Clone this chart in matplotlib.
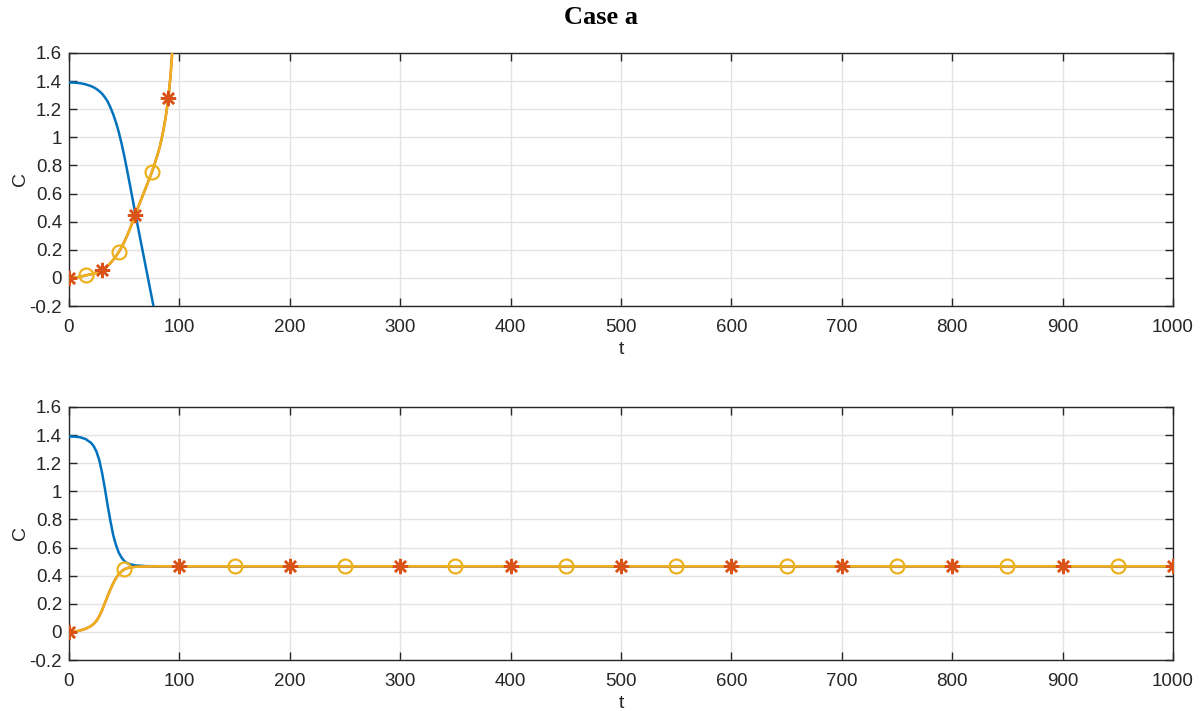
import matplotlib.pyplot as plt
import numpy as np
from matplotlib.ticker import FormatStrFormatter

# Case a, top panel (samples)
tTop = [0, 5, 10, 15, 20, 22.5, 25, 27.5, 30, 32.5, 35, 37.5, 40, 42.5, 45, 47.5, 50, 52.5,
        55, 57.5, 60, 65, 70, 75, 80, 82.5, 85, 87.5, 90, 92, 94]
blueTop = [1.39, 1.389, 1.385, 1.377, 1.364, 1.355, 1.343, 1.328, 1.31, 1.285, 1.255, 1.213,
           1.165, 1.107, 1.04, 0.96, 0.87, 0.772, 0.67, 0.565, 0.46, 0.26, 0.06, -0.14,
           -0.34, -0.44, -0.54, -0.64, -0.74, -0.82, -0.9]
orangeTop = [0.0, 0.002, 0.008, 0.018, 0.026, 0.031, 0.037, 0.045, 0.055, 0.068, 0.085, 0.105,
             0.128, 0.154, 0.183, 0.217, 0.255, 0.298, 0.345, 0.396, 0.45, 0.55, 0.65, 0.75,
             0.87, 0.94, 1.03, 1.14, 1.28, 1.44, 1.66]

# Case a, bottom panel
tBot = [0, 5, 10, 15, 20, 22.5, 25, 27.5, 30, 32.5, 35, 37.5, 40, 42.5, 45, 47.5, 50, 52.5,
        55, 60, 70, 80, 90, 100, 150, 200, 250, 300, 350, 400, 450, 500, 550, 600, 650, 700,
        750, 800, 850, 900, 950, 1000]
blueBot = [1.39, 1.389, 1.385, 1.372, 1.345, 1.32, 1.28, 1.22, 1.13, 1.02, 0.9, 0.79, 0.69,
           0.62, 0.565, 0.53, 0.505, 0.49, 0.482, 0.473, 0.468, 0.467, 0.467,
           0.467] + [0.467] * 18
orangeBot = [0.0, 0.002, 0.01, 0.022, 0.042, 0.058, 0.08, 0.113, 0.155, 0.205, 0.255, 0.302,
             0.345, 0.382, 0.41, 0.43, 0.445, 0.453, 0.458, 0.463, 0.466, 0.467, 0.467,
             0.467] + [0.467] * 18

BLUE = "#0072BD"
RED = "#D95319"
YELLOW = "#EDB120"
INK = "#262626"

plt.rcParams["axes.unicode_minus"] = False
plt.rcParams["font.family"] = ["Liberation Sans", "DejaVu Sans"]


def drawPanel(ax, t, blue, orange, step):
    t = np.array(t)
    starIdx = [int(i) for i in np.where(np.isclose(t % step, 0))[0]]
    circleIdx = [int(i) for i in np.where(np.isclose(t % step, step / 2))[0]]
    ax.plot(t, blue, color=BLUE, lw=1.8, zorder=3)
    ax.plot(t, orange, color=RED, lw=1.8, zorder=4)
    ax.plot(t, orange, color=YELLOW, lw=1.8, marker="o", ms=10, mew=1.6, mfc="none",
            markevery=circleIdx, zorder=5)
    ax.plot(t, orange, color=RED, ls="none", marker=(8, 2, 0), ms=11, mew=1.8,
            markevery=starIdx, zorder=6)
    ax.set_xlim(0, 1000)
    ax.set_ylim(-0.2, 1.6)
    ax.set_xticks(np.arange(0, 1001, 100))
    ax.set_yticks(np.arange(-0.2, 1.61, 0.2))
    ax.yaxis.set_major_formatter(FormatStrFormatter("%g"))
    ax.grid(True, color="#e3e3e3", lw=1.0, zorder=0)
    ax.set_axisbelow(True)
    ax.tick_params(direction="in", length=6, width=1.0, top=True, right=True,
                   labelsize=13.5, colors=INK)
    ax.tick_params(axis="x", pad=9)
    ax.tick_params(axis="y", pad=5)
    for s in ax.spines.values():
        s.set_color(INK)
        s.set_linewidth(1.0)
    ax.set_xlabel("t", fontsize=14, color=INK, labelpad=4)
    ax.set_ylabel("C", fontsize=14, color=INK, labelpad=0)


fig = plt.figure(figsize=(12.02, 7.11), dpi=100)
ax1 = fig.add_axes([0.0574, 0.5696, 0.9185, 0.3559])
ax2 = fig.add_axes([0.0574, 0.0717, 0.9185, 0.3559])

# top panel: markers every 30 (stars) with circles in between; bottom: every 100
drawPanel(ax1, tTop, blueTop, orangeTop, 30)
drawPanel(ax2, tBot, blueBot, orangeBot, 100)

fig.suptitle("Case a", y=0.975, va="center", fontsize=19, fontweight="bold",
             family=["Liberation Serif", "DejaVu Serif"])

fig.savefig("out.png", dpi=100)
